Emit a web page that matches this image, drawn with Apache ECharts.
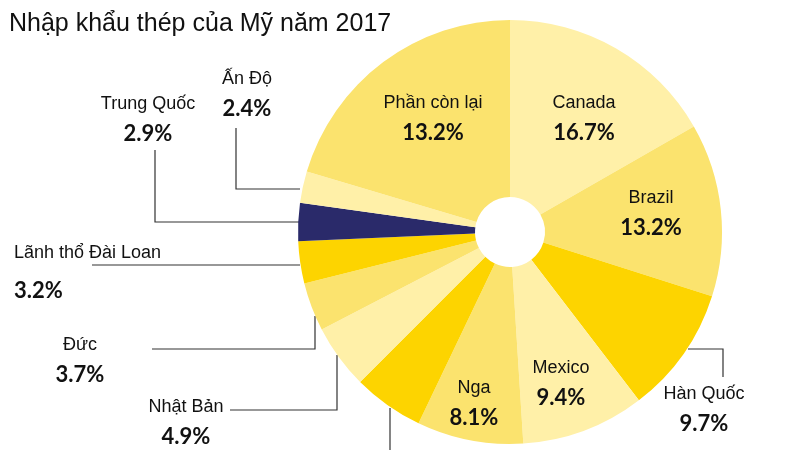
<!DOCTYPE html>
<html>
<head>
<meta charset="utf-8">
<script src="https://cdn.jsdelivr.net/npm/echarts@6/dist/echarts.min.js"></script>
<style>
  html, body { margin: 0; padding: 0; background: #fff; }
  #chart { width: 800px; height: 450px; }
</style>
</head>
<body>
<div id="chart"></div>
<script>
// du lieu: ti trong nhap khau thep cua My nam 2017 (theo chieu kim dong ho tu 12h)
const names = ['Canada', 'Brazil', 'Hàn Quốc', 'Mexico', 'Nga', '', 'Nhật Bản', 'Đức',
  'Lãnh thổ Đài Loan', 'Trung Quốc', 'Ấn Độ', 'Phần còn lại'];
// phan tram cua hinh quat ve tren do thi
const shares = [16.7, 13.2, 9.7, 9.4, 8.1, 5.4, 4.9, 3.7, 3.2, 2.9, 2.4, 20.4];
// so lieu in tren nhan
const printed = ['16.7%', '13.2%', '9.7%', '9.4%', '8.1%', '', '4.9%', '3.7%', '3.2%', '2.9%', '2.4%', '13.2%'];

const LIGHT = '#fff0a8', MID = '#fbe36e', BRIGHT = '#fdd400', NAVY = '#2a2a6a';
const colors = [LIGHT, MID, BRIGHT, LIGHT, MID, BRIGHT, LIGHT, MID, BRIGHT, NAVY, LIGHT, MID];

// vi tri nhan va duong dan (pixel)
const labelPos = [
  [584, 118], [651, 213], [704, 409], [561, 383], [474, 403], [390, 470],
  [186, 422], [80, 360], [14, 272], [148, 119], [247, 94], [433, 118]
];
const guideLines = {
  2: [[688, 349], [723, 349], [723, 377]],
  5: [[390, 408], [390, 408], [390, 450]],
  6: [[337, 355], [337, 410], [230, 410]],
  7: [[315, 316], [315, 349], [152, 349]],
  8: [[300, 265], [196, 265], [92, 265]],
  9: [[300, 222], [155, 222], [155, 150]],
  10: [[300, 189], [236, 189], [236, 128]]
};

const chart = echarts.init(document.getElementById('chart'));

const rich = {
  n: { fontFamily: 'Liberation Sans', fontSize: 18, color: '#111', lineHeight: 29, align: 'center' },
  p: { fontFamily: 'Lato', fontWeight: 'bold', fontSize: 22, color: '#111', lineHeight: 29, align: 'center' },
  nl: { fontFamily: 'Liberation Sans', fontSize: 18, color: '#111', lineHeight: 38, align: 'left' },
  pl: { fontFamily: 'Lato', fontWeight: 'bold', fontSize: 22, color: '#111', lineHeight: 38, align: 'left' }
};

const data = names.map((n, i) => ({
  name: n,
  value: shares[i],
  itemStyle: { color: colors[i] },
  labelLine: { show: guideLines[i] !== undefined }
}));

chart.setOption({
  animation: false,
  title: {
    text: 'Nhập khẩu thép của Mỹ năm 2017',
    left: 4, top: 7,
    textStyle: { fontFamily: 'Liberation Sans', fontWeight: 'normal', fontSize: 25, color: '#111' }
  },
  series: [{
    type: 'pie',
    center: [510, 232],
    radius: [35, 212],
    startAngle: 90,
    clockwise: true,
    data: data,
    label: {
      show: true,
      position: 'outside',
      overflow: 'none',
      formatter: p => {
        const i = p.dataIndex;
        if (!names[i]) return '';
        if (i === 8) return '{nl|' + names[i] + '}\n{pl|' + printed[i] + '}';
        return '{n|' + names[i] + '}\n{p|' + printed[i] + '}';
      },
      rich: rich
    },
    labelLine: { lineStyle: { color: '#333', width: 1.2 } },
    labelLayout: params => {
      const i = params.dataIndex;
      const pos = labelPos[i];
      const out = { x: pos[0], y: pos[1], align: i === 8 ? 'left' : 'center', verticalAlign: 'middle' };
      if (guideLines[i]) out.labelLinePoints = guideLines[i];
      return out;
    }
  }]
});
</script>
</body>
</html>
